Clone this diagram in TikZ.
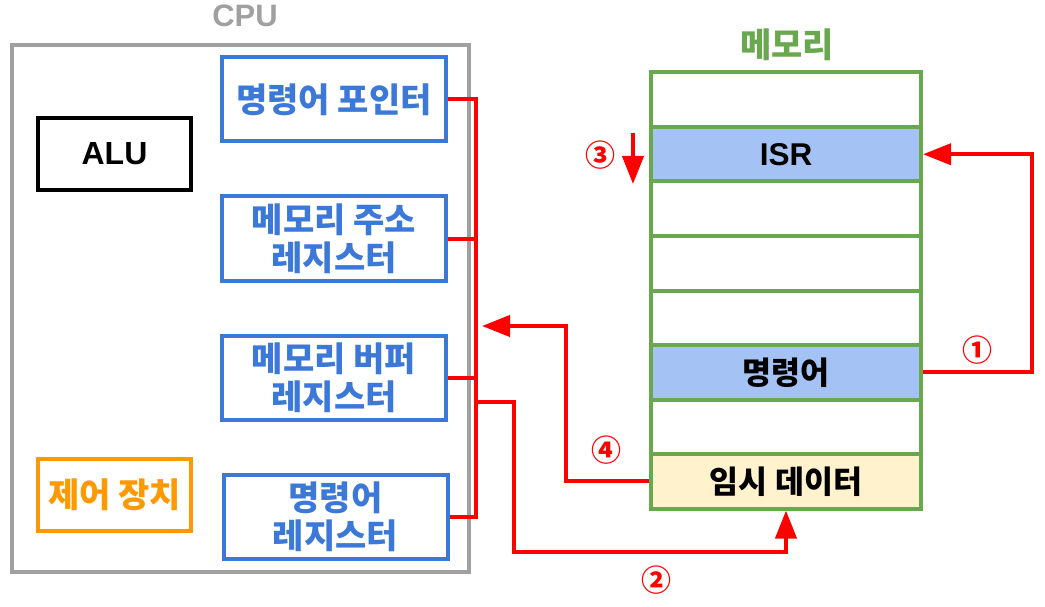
\documentclass[tikz,border=0pt]{standalone}
\usepackage{fontspec}
\setmainfont{Liberation Sans}
\newfontfamily\kr{Noto Sans CJK KR}
\usepackage{xcolor}
\usetikzlibrary{positioning,calc,arrows.meta}

\definecolor{cpugray}{HTML}{A0A0A0}
\definecolor{regblue}{HTML}{3C78D8}
\definecolor{ctrlorange}{HTML}{FF9900}
\definecolor{memgreen}{HTML}{6AA84F}
\definecolor{cellblue}{HTML}{A4C2F4}
\definecolor{cellyellow}{HTML}{FFF2CC}
\definecolor{busred}{HTML}{FF0000}

\tikzset{
    unit/.style={draw, line width=4pt, minimum width=153pt, minimum height=72pt, inner sep=0pt, align=center},
    reg/.style={unit, draw=regblue, text=regblue, minimum width=224pt, minimum height=84pt,
        font=\kr\bfseries\fontsize{34}{38}\selectfont},
    cell/.style={draw=memgreen, line width=4pt, minimum width=270pt, minimum height=54.5pt, inner sep=0pt,
        font=\bfseries\fontsize{31.5}{34}\selectfont},
    bus/.style={draw=busred, line width=4pt},
    flow/.style={bus, -{Triangle[length=28pt,width=21pt]}},
    num/.style={text=busred, font=\kr\bfseries\fontsize{30}{30}\selectfont}
}

\begin{document}
\begin{tikzpicture}[x=1pt,y=-1pt]
    \useasboundingbox (0,0) rectangle (1045,607);

    % CPU Block
    \node[draw=cpugray, line width=4pt, minimum width=457pt, minimum height=527pt] (cpu) at (240.5,308.5) {};
    \node[text=cpugray, font=\bfseries\fontsize{31}{31}\selectfont] at (245,16) {CPU};

    \node[unit, font=\bfseries\fontsize{32}{32}\selectfont] (alu) at (114.5,154) {ALU};
    \node[unit, draw=ctrlorange, text=ctrlorange, font=\kr\bfseries\fontsize{34}{34}\selectfont] (ctrl) at (114.5,494.5) {제어 장치};

    % Registers
    \node[reg] (pc) at (334,99.5) {명령어 포인터};
    \node[reg] (mar) at (334,238.5) {메모리 주소\\레지스터};
    \node[reg] (mbr) at (334,378) {메모리 버퍼\\레지스터};
    \node[reg] (ir) at (335.5,517) {명령어\\레지스터};

    % Memory
    \node[text=memgreen, font=\kr\bfseries\fontsize{34}{34}\selectfont] at (787,45) {메모리};
    \foreach \i/\col/\txt in {1/white/{}, 2/cellblue/ISR, 3/white/{}, 4/white/{},
                              5/white/{}, 6/cellblue/{\kr 명령어}, 7/white/{}, 8/cellyellow/{\kr 임시 데이터}}
    {
        \node[cell, fill=\col] (m\i) at (786,{72.5+54.5*(\i-0.5)}) {\txt};
    }

    % Bus
    \coordinate (busx) at (476,0);
    \draw[bus] (pc.east) -| (ir.east -| busx) -- (ir.east);
    \draw[bus] (mar.east) -- (mar.east -| busx);
    \draw[bus] (mbr.east) -- (mbr.east -| busx);

    % Steps
    \draw[flow] (m6.east) -- ++(109,0) |- (m2.east);
    \node[num] at (977,350) {①};

    \coordinate (out2) at (476,402);
    \draw[flow] (out2) -| (514,552) -| (m8.south);
    \node[num] at (656,580) {②};

    \coordinate (from3) at (633,133);
    \coordinate (to3) at (633,184);
    \draw[flow] (from3) -- (to3);
    \node[num] at (600,155) {③};

    \coordinate (in4) at (482,326);
    \draw[flow] (m8.west) -| (566,326) -- (in4);
    \node[num] at (606,450) {④};
\end{tikzpicture}
\end{document}
